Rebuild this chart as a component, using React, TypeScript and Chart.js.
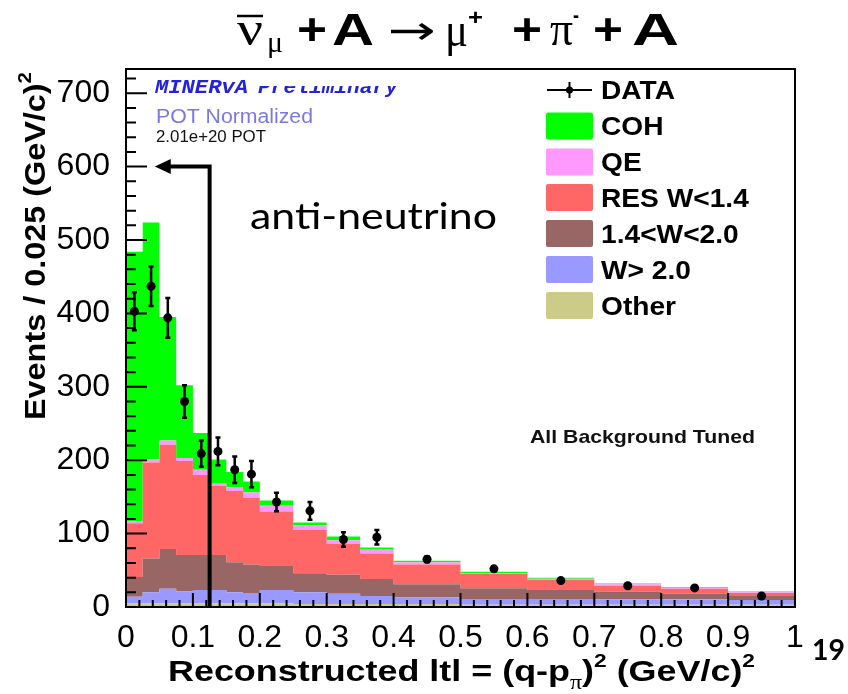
import React, { useEffect, useRef } from "react";
import { Chart, registerables } from "chart.js";
Chart.register(...registerables);

// ---- data (events / 0.025 (GeV/c)^2) ----
const binEdges = [0, 0.025, 0.05, 0.075, 0.1, 0.125, 0.15, 0.175, 0.2, 0.25, 0.3, 0.35, 0.4, 0.5, 0.6, 0.7, 0.8, 0.9, 1.0];
const dataCenters = [0.0125, 0.0375, 0.0625, 0.0875, 0.1125, 0.1375, 0.1625, 0.1875, 0.225, 0.275, 0.325, 0.375, 0.45, 0.55, 0.65, 0.75, 0.85, 0.95];
const dataValues = [403, 437, 394, 280, 209, 212, 187, 181, 143, 131, 92, 95, 65, 52, 36, 29, 26, 15];
const dataErrors = [26, 27, 27, 22, 18, 19, 18, 18, 12.5, 12, 10, 10, 4, 3.5, 3, 2.5, 2.5, 2];

// stacked MC components, bottom to top
const otherVals = [5, 5, 5, 5, 5, 5, 5, 5, 5, 4, 4, 4, 4, 3, 3, 3, 3, 3];
const wAbove2Vals = [9, 15, 20, 16, 18, 18, 15, 14, 18, 16, 14, 11, 9, 8, 8, 7.5, 7.5, 6.5];
const w14to20Vals = [27, 46, 54, 50, 48, 48, 41, 39, 33, 26, 26, 23, 18, 14.5, 12, 10.5, 7.5, 5.5];
const resVals = [73, 131, 142, 128, 109, 94, 97, 91, 74, 59, 42, 35, 27, 19.5, 14, 8, 7, 4];
const qeVals = [3, 4, 6, 4, 7, 3, 5, 7, 8, 6, 5, 5, 3, 1, 1.5, 2, 1, 1];
const cohVals = [367, 323, 168, 99, 50, 33, 21, 15, 7, 4, 5, 3, 2, 2, 1.5, 1, 1, 1];

const componentLabels = ["Other", "W> 2.0", "1.4<W<2.0", "RES W<1.4", "QE", "COH"];
const componentColors = ["#cccc88", "#9999ff", "#996666", "#ff6666", "#ff99ff", "#00ff00"];
const legendOrder = ["DATA", "COH", "QE", "RES W<1.4", "1.4<W<2.0", "W> 2.0", "Other"];

// axis settings
const yMax = 733;
const yMajorStep = 100;
const yMinorStep = 20;
const xMajorStep = 0.1;
const xMinorStep = 0.02;

// cut arrow annotation (data coords)
const cutX = 0.125;
const cutArrowY = 600;
const cutArrowTipX = 0.043;

const SANS = "'Liberation Sans', Arial, Helvetica, sans-serif";
const SERIF = "'Liberation Serif', 'DejaVu Serif', serif";

type Part = { t: string; font: string; dy?: number };

function measureParts(ctx: CanvasRenderingContext2D, parts: Part[]) {
  let w = 0;
  for (const p of parts) {
    ctx.font = p.font;
    w += ctx.measureText(p.t).width;
  }
  return w;
}

function drawParts(ctx: CanvasRenderingContext2D, parts: Part[], x: number, y: number, targetW: number, color = "#000") {
  const w = measureParts(ctx, parts);
  const sx = targetW / w;
  ctx.save();
  ctx.translate(x, y);
  ctx.scale(sx, 1);
  ctx.fillStyle = color;
  ctx.textBaseline = "alphabetic";
  ctx.textAlign = "left";
  let cx = 0;
  for (const p of parts) {
    ctx.font = p.font;
    ctx.fillText(p.t, cx, p.dy || 0);
    cx += ctx.measureText(p.t).width;
  }
  ctx.restore();
}

function txt(ctx: CanvasRenderingContext2D, s: string, x: number, y: number, font: string, color: string, width?: number, sx0 = 1) {
  ctx.save();
  ctx.font = font;
  ctx.fillStyle = color;
  ctx.textBaseline = "alphabetic";
  ctx.textAlign = "left";
  const w = ctx.measureText(s).width;
  const sx = width ? width / w : sx0;
  ctx.translate(x, y);
  ctx.scale(sx, 1);
  ctx.fillText(s, 0, 0);
  ctx.restore();
}

const decorPlugin = {
  id: "decor",
  afterDraw(chart: any) {
    const ctx: CanvasRenderingContext2D = chart.ctx;
    const xs = chart.scales.x;
    const ys = chart.scales.y;
    const a = chart.chartArea;
    ctx.save();

    // error bars
    ctx.strokeStyle = "#000";
    ctx.lineWidth = 2.5;
    dataCenters.forEach((c, i) => {
      const px = xs.getPixelForValue(c);
      const y1 = ys.getPixelForValue(dataValues[i] - dataErrors[i]);
      const y2 = ys.getPixelForValue(dataValues[i] + dataErrors[i]);
      ctx.beginPath();
      ctx.moveTo(px, y1);
      ctx.lineTo(px, y2);
      ctx.moveTo(px - 2.5, y1);
      ctx.lineTo(px + 2.5, y1);
      ctx.moveTo(px - 2.5, y2);
      ctx.lineTo(px + 2.5, y2);
      ctx.stroke();
    });

    // cut arrow
    const cx = xs.getPixelForValue(cutX);
    const ay = ys.getPixelForValue(cutArrowY);
    const tip = xs.getPixelForValue(cutArrowTipX);
    ctx.lineWidth = 4;
    ctx.beginPath();
    ctx.moveTo(cx, ys.getPixelForValue(0));
    ctx.lineTo(cx, ay);
    ctx.lineTo(tip + 12, ay);
    ctx.stroke();
    ctx.beginPath();
    ctx.moveTo(tip, ay);
    ctx.lineTo(tip + 16, ay - 7.5);
    ctx.lineTo(tip + 16, ay + 7.5);
    ctx.closePath();
    ctx.fillStyle = "#000";
    ctx.fill();

    // frame
    ctx.lineWidth = 2;
    ctx.strokeStyle = "#000";
    ctx.strokeRect(a.left, a.top, a.right - a.left, a.bottom - a.top);

    // inner ticks
    ctx.lineWidth = 2;
    ctx.beginPath();
    for (let k = 0; k * yMinorStep <= yMax; k++) {
      const v = k * yMinorStep;
      const major = v % yMajorStep === 0;
      const py = ys.getPixelForValue(v);
      ctx.moveTo(a.left, py);
      ctx.lineTo(a.left + (major ? 21 : 10), py);
    }
    const nx = Math.round(1 / xMinorStep);
    const per = Math.round(xMajorStep / xMinorStep);
    for (let k = 0; k <= nx; k++) {
      const px = xs.getPixelForValue(k * xMinorStep);
      ctx.moveTo(px, a.bottom);
      ctx.lineTo(px, a.bottom - (k % per === 0 ? 14 : 7));
    }
    ctx.stroke();

    // in-plot labels
    txt(ctx, "MINERvA", 155, 93, `italic bold 21px 'Liberation Mono', monospace`, "#2323d9", 93);
    ctx.save();
    ctx.beginPath();
    ctx.rect(250, 86, 160, 12);
    ctx.clip();
    txt(ctx, "Preliminary", 258, 93, `italic bold 21px 'Liberation Mono', monospace`, "#2323d9", 140);
    ctx.restore();
    txt(ctx, "POT Normalized", 156, 123, `20px ${SANS}`, "#7b78e6", 157);
    txt(ctx, "2.01e+20 POT", 156, 142, `16px ${SANS}`, "#111", 110);
    txt(ctx, "anti-neutrino", 250, 229, `36px Lato, 'Open Sans', sans-serif`, "#000", 247);
    txt(ctx, "All Background Tuned", 530, 443, `bold 18.5px ${SANS}`, "#111", 225);

    // legend
    const rowY = [90, 126, 162, 197.5, 233.5, 269.5, 305.5];
    ctx.font = `bold 25px ${SANS}`;
    const lsx = 74 / ctx.measureText("DATA").width;
    legendOrder.forEach((lab, r) => {
      const yC = rowY[r];
      if (lab === "DATA") {
        ctx.strokeStyle = "#000";
        ctx.lineWidth = 2;
        ctx.beginPath();
        ctx.moveTo(547, yC);
        ctx.lineTo(592, yC);
        ctx.moveTo(569.5, yC - 8);
        ctx.lineTo(569.5, yC + 8);
        ctx.stroke();
        ctx.beginPath();
        ctx.arc(569.5, yC, 3.5, 0, Math.PI * 2);
        ctx.fillStyle = "#000";
        ctx.fill();
      } else {
        const ci = componentLabels.indexOf(lab);
        ctx.fillStyle = componentColors[ci];
        ctx.beginPath();
        (ctx as any).roundRect(546, yC - 13.5, 47, 27, 2);
        ctx.fill();
      }
      txt(ctx, lab, 601, yC + 9, `bold 25px ${SANS}`, "#000", undefined, lsx);
    });

    // axis titles
    const bold30 = `bold 30px ${SANS}`;
    const sup = `bold 19px ${SANS}`;
    ctx.save();
    ctx.translate(45, 420);
    ctx.rotate(-Math.PI / 2);
    drawParts(ctx, [
      { t: "Events / 0.025 (GeV/c)", font: bold30 },
      { t: "2", font: sup, dy: -14 },
    ], 0, 0, 348);
    ctx.restore();

    drawParts(ctx, [
      { t: "Reconstructed ltl = (q-p", font: bold30 },
      { t: "π", font: `20px ${SERIF}`, dy: 8 },
      { t: ")", font: bold30 },
      { t: "2", font: sup, dy: -14 },
      { t: " (GeV/c)", font: bold30 },
      { t: "2", font: sup, dy: -14 },
    ], 168, 681, 587);

    // page number
    txt(ctx, "19", 812, 660, `bold 28px Lato, 'Open Sans', sans-serif`, "#000", 33);

    // title
    const g = `48px ${SERIF}`;
    const b = `bold 44px ${SANS}`;
    txt(ctx, "ν", 237, 45, g, "#000", 26);
    ctx.lineWidth = 2.5;
    ctx.strokeStyle = "#000";
    ctx.beginPath();
    ctx.moveTo(237, 16);
    ctx.lineTo(263, 16);
    ctx.stroke();
    txt(ctx, "μ", 267, 52, `30px ${SERIF}`, "#000", 16);
    txt(ctx, "+", 297, 45, b, "#000", 30);
    txt(ctx, "A", 332, 45, b, "#000", 42);
    txt(ctx, "→", 388, 44, `40px 'DejaVu Sans', sans-serif`, "#000", 48);
    txt(ctx, "μ", 445, 46, g, "#000", 23);
    txt(ctx, "+", 468, 25, `bold 22px ${SANS}`, "#000", 15);
    txt(ctx, "+", 512, 45, b, "#000", 30);
    txt(ctx, "π", 550, 45, g, "#000", 23);
    txt(ctx, "-", 573, 22, `bold 22px ${SANS}`, "#000", 6);
    txt(ctx, "+", 593, 45, b, "#000", 30);
    txt(ctx, "A", 632, 45, b, "#000", 47);

    ctx.restore();
  },
};

export default function App() {
  const ref = useRef<HTMLCanvasElement>(null);
  useEffect(() => {
    const canvas = ref.current;
    if (!canvas) return;
    const n = dataValues.length;
    const comps = [otherVals, wAbove2Vals, w14to20Vals, resVals, qeVals, cohVals];
    let cum = new Array(n).fill(0);
    const stackSets = comps.map((vals, k) => {
      cum = cum.map((c: number, i: number) => c + vals[i]);
      const level = cum.slice();
      return {
        type: "line" as const,
        label: componentLabels[k],
        data: binEdges.map((x, i) => ({ x, y: level[Math.min(i, n - 1)] })),
        stepped: true,
        fill: k === 0 ? "origin" : "-1",
        backgroundColor: componentColors[k],
        borderColor: componentColors[k],
        borderWidth: 0,
        pointRadius: 0,
        pointHoverRadius: 0,
        order: 1,
      };
    });
    const dataSet = {
      type: "line" as const,
      label: "DATA",
      data: dataCenters.map((x, i) => ({ x, y: dataValues[i] })),
      showLine: false,
      fill: false,
      pointRadius: 4.5,
      pointBackgroundColor: "#000",
      pointBorderColor: "#000",
      pointBorderWidth: 0,
      order: 0,
    };
    const tickFont = { family: SANS, size: 32 };
    const chart = new Chart(canvas, {
      type: "line",
      data: { datasets: [...stackSets, dataSet] as any },
      options: {
        responsive: false,
        animation: false,
        devicePixelRatio: 1,
        layout: { padding: { top: 69, right: 53, left: 0, bottom: 0 } },
        plugins: { legend: { display: false }, tooltip: { enabled: false }, title: { display: false } },
        scales: {
          x: {
            type: "linear",
            min: 0,
            max: 1,
            grid: { display: false },
            border: { display: false },
            ticks: {
              stepSize: xMajorStep,
              autoSkip: false,
              maxRotation: 0,
              includeBounds: false,
              color: "#000",
              font: tickFont,
              padding: 4,
              callback: (v: any) => String(Math.round(Number(v) * 10) / 10),
            },
            afterFit: (s: any) => {
              s.height = 87;
            },
          },
          y: {
            type: "linear",
            min: 0,
            max: yMax,
            grid: { display: false },
            border: { display: false },
            ticks: {
              stepSize: yMajorStep,
              includeBounds: false,
              color: "#000",
              font: tickFont,
              padding: 8,
            },
            afterFit: (s: any) => {
              s.width = 126;
            },
          },
        },
      } as any,
      plugins: [decorPlugin],
    });
    return () => chart.destroy();
  }, []);
  return (
    <div style={{ position: "fixed", left: 0, top: 0, width: 848, height: 694, background: "#fff" }}>
      <canvas ref={ref} width={848} height={694} style={{ width: 848, height: 694, display: "block" }} />
    </div>
  );
}
